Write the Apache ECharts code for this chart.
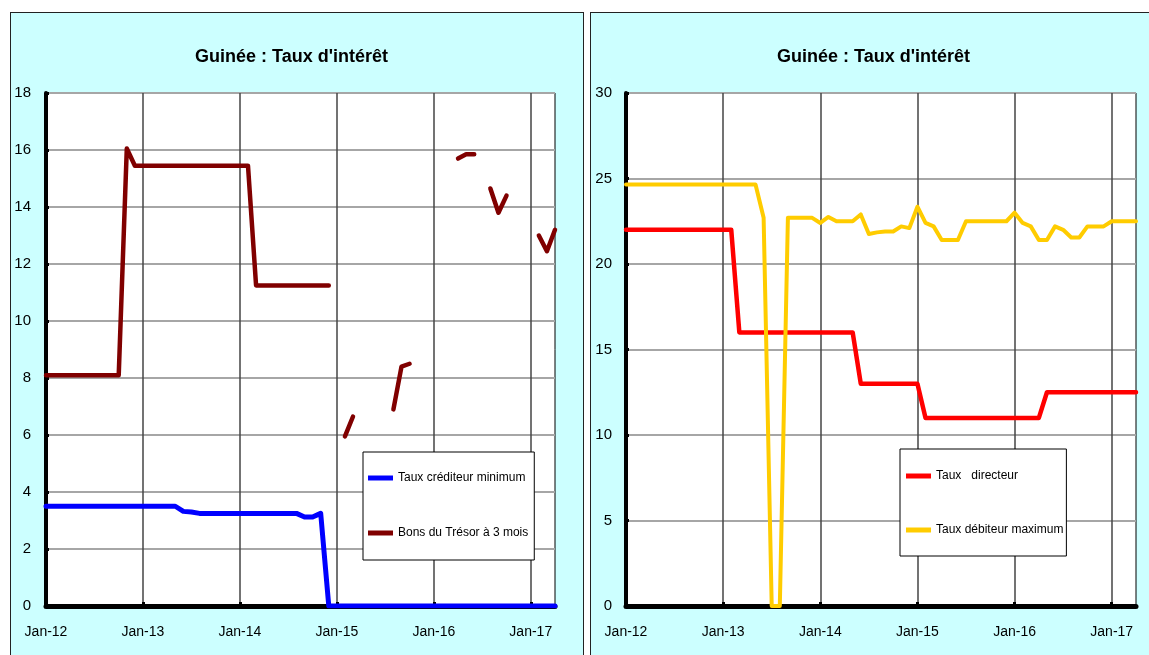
<!DOCTYPE html>
<html>
<head>
<meta charset="utf-8">
<script src="https://cdn.jsdelivr.net/npm/echarts@6/dist/echarts.min.js"></script>
<style>
  body{margin:0;width:1149px;height:655px;overflow:hidden;background:#fff;position:relative}
  .panel{position:absolute;top:12px;height:660px;background:#ccffff;border:1px solid #222;box-sizing:border-box}
  #panelLeft{left:10px;width:574px}
  #panelRight{left:590px;width:562px}
  .chart{position:absolute;left:0;top:0;height:642px}
</style>
</head>
<body>
<div class="panel" id="panelLeft"><div class="chart" id="chartLeft" style="width:572px"></div></div>
<div class="panel" id="panelRight"><div class="chart" id="chartRight" style="width:560px"></div></div>
<script>
// mois : Jan-12 .. Apr-17
const months = [
  'Jan-12','Feb-12','Mar-12','Apr-12','May-12','Jun-12','Jul-12','Aug-12','Sep-12','Oct-12','Nov-12','Dec-12',
  'Jan-13','Feb-13','Mar-13','Apr-13','May-13','Jun-13','Jul-13','Aug-13','Sep-13','Oct-13','Nov-13','Dec-13',
  'Jan-14','Feb-14','Mar-14','Apr-14','May-14','Jun-14','Jul-14','Aug-14','Sep-14','Oct-14','Nov-14','Dec-14',
  'Jan-15','Feb-15','Mar-15','Apr-15','May-15','Jun-15','Jul-15','Aug-15','Sep-15','Oct-15','Nov-15','Dec-15',
  'Jan-16','Feb-16','Mar-16','Apr-16','May-16','Jun-16','Jul-16','Aug-16','Sep-16','Oct-16','Nov-16','Dec-16',
  'Jan-17','Feb-17','Mar-17','Apr-17'
]

// graphique de gauche
const tauxCrediteurMin = [
  3.5,3.5,3.5,3.5,3.5,3.5,3.5,3.5,3.5,3.5,3.5,3.5,
  3.5,3.5,3.5,3.5,3.5,3.32,3.3,3.25,3.25,3.25,3.25,3.25,
  3.25,3.25,3.25,3.25,3.25,3.25,3.25,3.25,3.12,3.12,3.25,0,
  0,0,0,0,0,0,0,0,0,0,0,0,
  0,0,0,0,0,0,0,0,0,0,0,0,
  0,0,0,0
]
const bonsTresor3m = [
  8.1,8.1,8.1,8.1,8.1,8.1,8.1,8.1,8.1,8.1,16.05,15.45,
  15.45,15.45,15.45,15.45,15.45,15.45,15.45,15.45,15.45,15.45,15.45,15.45,
  15.45,15.45,11.25,11.25,11.25,11.25,11.25,11.25,11.25,11.25,11.25,11.25,
  null,5.95,6.65,null,null,null,null,6.9,8.4,8.5,null,null,
  null,null,null,15.7,15.85,15.85,null,14.65,13.8,14.4,null,null,
  null,13.0,12.45,13.2
]

// graphique de droite
const tauxDirecteur = [
  22,22,22,22,22,22,22,22,22,22,22,22,
  22,22,16,16,16,16,16,16,16,16,16,16,
  16,16,16,16,16,13,13,13,13,13,13,13,
  13,11,11,11,11,11,11,11,11,11,11,11,
  11,11,11,11,12.5,12.5,12.5,12.5,12.5,12.5,12.5,12.5,
  12.5,12.5,12.5,12.5
]
const tauxDebiteurMax = [
  24.65,24.65,24.65,24.65,24.65,24.65,24.65,24.65,24.65,24.65,24.65,24.65,
  24.65,24.65,24.65,24.65,24.65,22.7,0,0,22.7,22.7,22.7,22.7,
  22.4,22.75,22.5,22.5,22.5,22.9,21.75,21.85,21.9,21.9,22.2,22.1,
  23.35,22.4,22.2,21.4,21.4,21.4,22.5,22.5,22.5,22.5,22.5,22.5,
  23.0,22.4,22.2,21.4,21.4,22.2,22.0,21.55,21.55,22.2,22.2,22.2,
  22.5,22.5,22.5,22.5
]

const FONT = "'Liberation Sans', Arial, sans-serif"
const legendIcon = 'path://M0,0 L25,0 L25,5 L0,5 Z'
const janOnly = function (idx) { return idx % 12 === 0 }

function buildOption(cfg) {
  return {
    animation: false,
    textStyle: {fontFamily: FONT},
    title: {
      text: "Guinée : Taux d'intérêt",
      left: cfg.titleLeft,
      top: 35,
      padding: 0,
      textStyle: {fontFamily: FONT, fontSize: 18, fontWeight: 'bold', color: '#000'}
    },
    legend: {
      orient: 'vertical',
      left: cfg.legendLeft,
      top: cfg.legendTop,
      padding: cfg.legendPadding,
      itemGap: cfg.legendGap,
      itemWidth: 25,
      itemHeight: 14,
      icon: legendIcon,
      backgroundColor: '#fff',
      borderColor: '#000',
      borderWidth: 1,
      textStyle: {fontFamily: FONT, fontSize: 12, color: '#000', lineHeight: 14}
    },
    grid: {
      left: 35, top: 80, width: cfg.gridWidth, height: 513,
      show: true, backgroundColor: '#fff', borderColor: '#000', borderWidth: 1
    },
    xAxis: {
      type: 'category',
      data: months,
      boundaryGap: false,
      axisLine: {onZero: false, lineStyle: {color: '#000', width: 5}},
      axisTick: {show: true, inside: true, length: 4, interval: janOnly, lineStyle: {color: '#000', width: 3}},
      axisLabel: {interval: janOnly, margin: 19, fontFamily: FONT, fontSize: 14, color: '#000'},
      splitLine: {show: true, interval: janOnly, lineStyle: {color: '#444', width: 1.5}}
    },
    yAxis: {
      type: 'value',
      min: 0, max: cfg.yMax, interval: cfg.yStep,
      axisLine: {show: true, lineStyle: {color: '#000', width: 4}},
      axisTick: {show: true, inside: true, length: 3, lineStyle: {color: '#000', width: 3}},
      axisLabel: {margin: cfg.yMargin, fontFamily: FONT, fontSize: 15, color: '#000'},
      splitLine: {lineStyle: {color: '#a6a6a6', width: 2}}
    },
    series: cfg.series.map(s => ({
      name: s.name,
      type: 'line',
      data: s.data,
      symbol: 'none',
      connectNulls: false,
      color: s.color,
      lineStyle: {color: s.color, width: s.width, cap: 'round', join: 'round'}
    }))
  }
}

const chartLeft = echarts.init(document.getElementById('chartLeft'))
chartLeft.setOption(buildOption({
  gridWidth: 509, yMax: 18, yStep: 2, yMargin: 15, titleLeft: 184,
  legendLeft: 352, legendTop: 439, legendPadding: [19, 6, 20, 5], legendGap: 41,
  series: [
    {name: 'Taux créditeur minimum', data: tauxCrediteurMin, color: '#0000ff', width: 5},
    {name: 'Bons du Trésor à 3 mois', data: bonsTresor3m, color: '#800000', width: 4.5}
  ]
}))

const chartRight = echarts.init(document.getElementById('chartRight'))
chartRight.setOption(buildOption({
  gridWidth: 510, yMax: 30, yStep: 5, yMargin: 14, titleLeft: 186,
  legendLeft: 309, legendTop: 436, legendPadding: [20, 3, 19, 6], legendGap: 40,
  series: [
    {name: 'Taux   directeur', data: tauxDirecteur, color: '#ff0000', width: 4.5},
    {name: 'Taux débiteur maximum', data: tauxDebiteurMax, color: '#ffcc00', width: 4}
  ]
}))
</script>
</body>
</html>
